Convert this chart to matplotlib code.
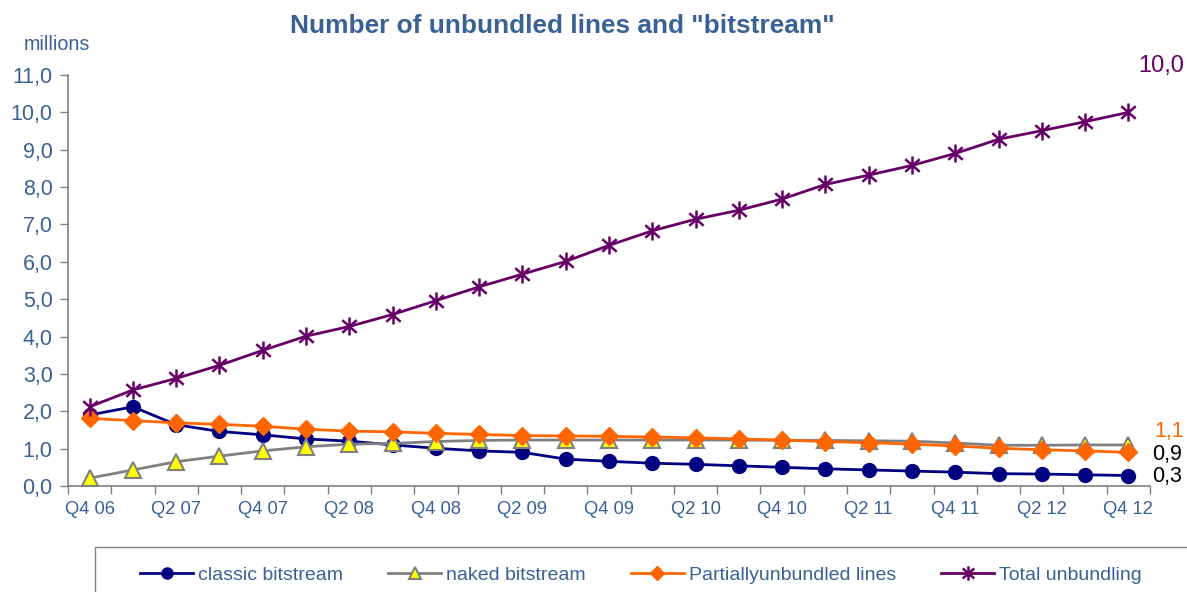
import matplotlib
matplotlib.use("Agg")
import matplotlib.pyplot as plt
from matplotlib.path import Path
from matplotlib.patches import Rectangle
from matplotlib.ticker import FixedLocator, FuncFormatter

quarters = ["Q4 06", "Q1 07", "Q2 07", "Q3 07", "Q4 07", "Q1 08", "Q2 08", "Q3 08",
            "Q4 08", "Q1 09", "Q2 09", "Q3 09", "Q4 09", "Q1 10", "Q2 10", "Q3 10",
            "Q4 10", "Q1 11", "Q2 11", "Q3 11", "Q4 11", "Q1 12", "Q2 12", "Q3 12",
            "Q4 12"]

classic_bitstream = [1.90, 2.12, 1.64, 1.46, 1.37, 1.26, 1.20, 1.10, 1.01, 0.94, 0.90,
                     0.72, 0.66, 0.61, 0.58, 0.54, 0.50, 0.46, 0.43, 0.40, 0.37, 0.33,
                     0.32, 0.30, 0.28]
naked_bitstream = [0.21, 0.43, 0.65, 0.80, 0.94, 1.05, 1.12, 1.14, 1.19, 1.22, 1.23,
                   1.23, 1.23, 1.23, 1.23, 1.23, 1.22, 1.22, 1.21, 1.20, 1.15, 1.09,
                   1.09, 1.10, 1.10]
partially_unbundled = [1.81, 1.75, 1.69, 1.65, 1.60, 1.52, 1.47, 1.45, 1.41, 1.38, 1.35,
                       1.34, 1.33, 1.31, 1.29, 1.26, 1.23, 1.19, 1.16, 1.12, 1.07, 1.01,
                       0.97, 0.94, 0.90]
total_unbundling = [2.12, 2.57, 2.88, 3.23, 3.63, 4.01, 4.27, 4.59, 4.96, 5.33, 5.67,
                    6.01, 6.44, 6.83, 7.14, 7.38, 7.68, 8.07, 8.32, 8.58, 8.90, 9.28,
                    9.51, 9.75, 10.00]

series_names = ["classic bitstream", "naked bitstream", "Partiallyunbundled lines",
                "Total unbundling"]

plt.rcParams["font.family"] = ["Liberation Sans", "DejaVu Sans"]

TEXT_BLUE = "#3A6196"
NAVY = "#000080"
GREY = "#808080"
ORANGE = "#FF6600"
PURPLE = "#660066"

# Excel-style star: an X with a vertical stroke through it
star = Path([(0, -1), (0, 1), (-0.8, -0.7), (0.8, 0.7), (-0.8, 0.7), (0.8, -0.7)],
            [Path.MOVETO, Path.LINETO, Path.MOVETO, Path.LINETO, Path.MOVETO, Path.LINETO])

fig = plt.figure(figsize=(11.87, 5.92), dpi=100)
ax = fig.add_axes([68 / 1187, 1 - 486 / 592, 1082 / 1187, 411 / 592])

x = list(range(len(quarters)))
lw = 2.0
ax.plot(x, classic_bitstream, color=NAVY, lw=lw, marker="o", ms=10,
        mfc=NAVY, mec=NAVY, label=series_names[0], zorder=3)
ax.plot(x, naked_bitstream, color=GREY, lw=lw, marker="^", ms=11,
        mfc="#FFFF00", mec=GREY, mew=1.5, label=series_names[1], zorder=4)
ax.plot(x, partially_unbundled, color=ORANGE, lw=lw, marker="D", ms=9,
        mfc=ORANGE, mec=ORANGE, label=series_names[2], zorder=5)
ax.plot(x, total_unbundling, color=PURPLE, lw=lw, marker=star, ms=13,
        mfc="none", mec=PURPLE, mew=1.8, label=series_names[3], zorder=6)

ax.set_xlim(-0.5, len(quarters) - 0.5)
ax.set_ylim(0, 11)

def comma(v, pos=None):
    return f"{v:.1f}".replace(".", ",")

ax.yaxis.set_major_locator(FixedLocator([i for i in range(12)]))
ax.yaxis.set_major_formatter(FuncFormatter(comma))
ax.tick_params(axis="y", direction="out", length=6, width=1, color="#808080",
               labelsize=15.5, labelcolor=TEXT_BLUE, pad=5)

ax.set_xticks(x[::2])
ax.set_xticklabels(quarters[::2])
ax.set_xticks([i - 0.5 for i in range(len(quarters) + 1)], minor=True)
ax.tick_params(axis="x", which="major", length=0, labelsize=13.2,
               labelcolor=TEXT_BLUE, pad=11)
ax.tick_params(axis="x", which="minor", direction="out", length=6, width=1,
               color="#808080")

for side in ("top", "right"):
    ax.spines[side].set_visible(False)
for side in ("left", "bottom"):
    ax.spines[side].set_color("#808080")
    ax.spines[side].set_linewidth(1.2)

# End-of-series value labels
last = len(quarters) - 1
ax.annotate(comma(total_unbundling[-1]), (last, total_unbundling[-1]),
            xytext=(33, 46), textcoords="offset pixels", ha="center", va="center",
            fontsize=17, color=PURPLE)
ax.annotate(comma(naked_bitstream[-1]), (last, naked_bitstream[-1]),
            xytext=(26, 13), textcoords="offset pixels", ha="left", va="center",
            fontsize=15.5, color=ORANGE)
ax.annotate(comma(partially_unbundled[-1]), (last, partially_unbundled[-1]),
            xytext=(24, -2), textcoords="offset pixels", ha="left", va="center",
            fontsize=15.5, color="black")
ax.annotate(comma(classic_bitstream[-1]), (last, classic_bitstream[-1]),
            xytext=(24, -1), textcoords="offset pixels", ha="left", va="center",
            fontsize=15.5, color="black")

fig.text(562 / 1187, 1 - 26 / 592, 'Number of unbundled lines and "bitstream"',
         ha="center", va="center", fontsize=18.9, fontweight="bold", color=TEXT_BLUE)
fig.text(57 / 1187, 1 - 44 / 592, "millions", ha="center", va="center",
         fontsize=14.2, color=TEXT_BLUE)

# Legend box running off the lower right edge
fig.patches.append(Rectangle((95 / 1187, -0.05), 1.2, (592 - 547) / 592 + 0.05,
                             transform=fig.transFigure, fill=False,
                             edgecolor="#808080", lw=1.0))
handles, labels = ax.get_legend_handles_labels()
leg = fig.legend(handles, labels, loc="center", ncol=4,
                 bbox_to_anchor=(641 / 1187, 1 - 575 / 592), frameon=False,
                 fontsize=14, handlelength=2.75, columnspacing=2.3,
                 handletextpad=0.25, markerscale=0.8)
for t in leg.get_texts():
    t.set_color(TEXT_BLUE)

fig.savefig("out.png", dpi=100)
